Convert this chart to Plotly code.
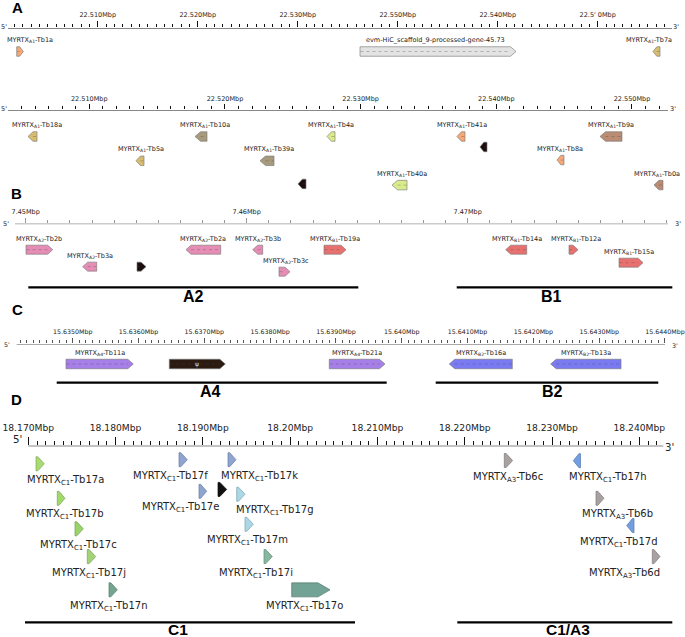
import numpy as np
import plotly.graph_objects as go

W, H = 685, 637

# ======================= DATA =======================
# ---- Panel A, upper track ----
A1_window = [22501030, 22567430]
A1_tick_vals = [22510000, 22520000, 22530000, 22540000, 22550000, 22560000]
A1_tick_text = ["22.510Mbp", "22.520Mbp", "22.530Mbp", "22.550Mbp", "22.540Mbp", "22.5' 0Mbp"]
A1_genes = ["MYRTX<sub>A1</sub>-Tb1a", "evm-HiC_scaffold_9-processed-gene-45.73", "MYRTX<sub>A1</sub>-Tb7a"]
A1_start = [22501900, 22536230, 22565530]
A1_end = [22502560, 22551830, 22566230]
A1_strand = [1, 1, -1]

# ---- Panel A, lower track ----
A2_window = [22504012, 22552654]
A2_tick_vals = [22510000, 22520000, 22530000, 22540000, 22550000]
A2_tick_text = ["22.510Mbp", "22.520Mbp", "22.530Mbp", "22.540Mbp", "22.550Mbp"]
A2_genes = ["MYRTX<sub>A1</sub>-Tb18a", "MYRTX<sub>A1</sub>-Tb10a", "MYRTX<sub>A1</sub>-Tb4a",
            "MYRTX<sub>A1</sub>-Tb41a", "MYRTX<sub>A1</sub>-Tb9a", "MYRTX<sub>A1</sub>-Tb5a",
            "MYRTX<sub>A1</sub>-Tb39a", "MYRTX<sub>A1</sub>-Tb8a", "",
            "MYRTX<sub>A1</sub>-Tb40a", "MYRTX<sub>A1</sub>-Tb0a", ""]
A2_start = [22505486, 22517794, 22527522, 22537103, 22547642, 22513445,
            22522584, 22544473, 22538798, 22532313, 22551622, 22525385]
A2_end = [22506149, 22518678, 22528112, 22537693, 22549264, 22514035,
          22523616, 22544989, 22539314, 22533418, 22552285, 22525974]
A2_strand = [-1] * 12

# ---- Panel B ----
B_window = [7449516, 7479064]
B_tick_vals = [7450000, 7460000, 7470000]
B_tick_text = ["7.45Mbp", "7.46Mbp", "7.47Mbp"]
B_genes = ["MYRTX<sub>A2</sub>-Tb2b", "MYRTX<sub>A2</sub>-Tb2a", "MYRTX<sub>A2</sub>-Tb3b",
           "MYRTX<sub>B1</sub>-Tb19a", "MYRTX<sub>B1</sub>-Tb14a", "MYRTX<sub>B1</sub>-Tb12a",
           "MYRTX<sub>A2</sub>-Tb3a", "", "MYRTX<sub>B1</sub>-Tb15a", "MYRTX<sub>A2</sub>-Tb3c"]
B_start = [7450014, 7457254, 7460272, 7463498, 7471720, 7474584, 7452579, 7455036, 7476847, 7461462]
B_end = [7451222, 7458824, 7460724, 7464494, 7472670, 7474992, 7453213, 7455444, 7477933, 7461960]
B_strand = [1, -1, -1, 1, -1, 1, -1, 1, 1, 1]
B_regions = ["A2", "B1"]
B_region_start = [7450118, 7469503]
B_region_end = [7465050, 7479259]

# ---- Panel C ----
C_window = [15634149, 15644000]
C_tick_vals = [15635000, 15636000, 15637000, 15638000, 15639000,
               15640000, 15641000, 15642000, 15643000, 15644000]
C_tick_text = ["15.6350Mbp", "15.6360Mbp", "15.6370Mbp", "15.6380Mbp", "15.6390Mbp",
               "15.640Mbp", "15.6410Mbp", "15.6420Mbp", "15.6430Mbp", "15.6440Mbp"]
C_genes = ["MYRTX<sub>A4</sub>-Tb11a", "", "MYRTX<sub>A4</sub>-Tb21a",
           "MYRTX<sub>B2</sub>-Tb16a", "MYRTX<sub>B2</sub>-Tb13a"]
C_start = [15634898, 15636468, 15638899, 15640722, 15642263]
C_end = [15635921, 15637319, 15639745, 15641680, 15643332]
C_strand = [1, 1, 1, -1, -1]
C_regions = ["A4", "B2"]
C_region_start = [15634757, 15640516]
C_region_end = [15639771, 15643898]

# ---- Panel D ----
D_window = [18170000, 18242746]
D_tick_vals = [18170000, 18180000, 18190000, 18200000, 18210000, 18220000, 18230000, 18240000]
D_tick_text = ["18.170Mbp", "18.180Mbp", "18.190Mbp", "18.20Mbp", "18.210Mbp",
               "18.220Mbp", "18.230Mbp", "18.240Mbp"]
D_genes = ["MYRTX<sub>C1</sub>-Tb17a", "MYRTX<sub>C1</sub>-Tb17b", "MYRTX<sub>C1</sub>-Tb17c",
           "MYRTX<sub>C1</sub>-Tb17j", "MYRTX<sub>C1</sub>-Tb17n", "MYRTX<sub>C1</sub>-Tb17f",
           "MYRTX<sub>C1</sub>-Tb17e", "", "MYRTX<sub>C1</sub>-Tb17k", "MYRTX<sub>C1</sub>-Tb17g",
           "MYRTX<sub>C1</sub>-Tb17m", "MYRTX<sub>C1</sub>-Tb17i", "MYRTX<sub>C1</sub>-Tb17o",
           "MYRTX<sub>A3</sub>-Tb6c", "MYRTX<sub>C1</sub>-Tb17h", "MYRTX<sub>A3</sub>-Tb6b",
           "MYRTX<sub>C1</sub>-Tb17d", "MYRTX<sub>A3</sub>-Tb6d"]
D_start = [18170882, 18173322, 18175350, 18176759, 18179245, 18187264, 18189555, 18191732,
           18192878, 18193874, 18194825, 18197002, 18200175, 18224531, 18232435, 18235036,
           18238553, 18241485]
D_end = [18171833, 18174204, 18176301, 18177721, 18180196, 18188215, 18190438, 18192729,
         18193794, 18194825, 18195776, 18197953, 18204563, 18225482, 18233260, 18235952,
         18239389, 18242368]
D_strand = [1, 1, 1, 1, 1, 1, 1, 1, 1, 1, 1, 1, 1, 1, -1, 1, -1, 1]
D_regions = ["C1", "C1/A3"]
D_region_start = [18169622, 18219146]
D_region_end = [18207427, 18243777]

# ======================= STYLE / LAYOUT =======================
ORANGE, TAN, OLIVE, LIME, BROWN = "#f6a876", "#d8bd70", "#a89a7c", "#d9ec8c", "#ba8c74"
DARK = "#1c0c0c"
PINK, RED, PURPLE, BLUE = "#e68db6", "#e8716f", "#a67fe8", "#7a7af2"

tracks = [
    dict(name="A1", window=A1_window, tv=A1_tick_vals, tt=A1_tick_text, genes=A1_genes,
         start=A1_start, end=A1_end, strand=A1_strand,
         colors=[ORANGE, "#e3e3e3", TAN], levels=[0, 0, 0], lab_dx=[10, -3, -7.5],
         ref_bp=22510000, ref_px=97.7, ppk=10.0, axis_y=28, bottom=95,
         base=51.5, step=24.3, gh=9.5, lab_dy=-11.5, fs=6.5, tfs=6.5, stand=1,
         acol="#111", aw=1, tlen=6, mlen=3.5, mstep=10000 / 12, head=5.5,
         five=(-4, -1), three=(4, -1), regions=None),
    dict(name="A2", window=A2_window, tv=A2_tick_vals, tt=A2_tick_text, genes=A2_genes,
         start=A2_start, end=A2_end, strand=A2_strand,
         colors=[TAN, OLIVE, LIME, ORANGE, BROWN, TAN, OLIVE, ORANGE, DARK, LIME, BROWN, DARK],
         levels=[0, 0, 0, 0, 0, 1, 1, 0.97, 0.43, 2, 2, 1.95],
         lab_dx=[4, 4, 0, 1, 0, 1, 2, 0, 0, 2, -1, 0],
         ref_bp=22530000, ref_px=360.62, ppk=13.5675, axis_y=110, bottom=195,
         base=136.5, step=24.3, gh=9.5, lab_dy=-11.5, fs=6.5, tfs=6.5, stand=0,
         acol="#111", aw=1, tlen=5, mlen=3, mstep=1000, head=5.5,
         five=(-4, -1), three=(5, -1), regions=None),
    dict(name="B", window=B_window, tv=B_tick_vals, tt=B_tick_text, genes=B_genes,
         start=B_start, end=B_end, strand=B_strand,
         colors=[PINK, PINK, PINK, RED, RED, RED, PINK, DARK, RED, PINK],
         levels=[0, 0, 0, 0, 0, 0, 0.77, 0.77, 0.59, 1.0],
         lab_dx=[0, 0, 0, 0, 1, 2, 0, 0, -2, 1],
         ref_bp=7450000, ref_px=25.7, ppk=22.1, axis_y=223.5, bottom=300,
         base=249.7, step=22, gh=9, lab_dy=-11, fs=6.5, tfs=6.5, stand=1,
         acol="#999", aw=1.5, tlen=4.5, mlen=2.5, mstep=1000, head=5,
         five=(-9, 0), three=(10, 0),
         regions=(B_regions, B_region_start, B_region_end), reg_y=287.3, reg_dx=[0, -13],
         reg_dy=8.8),
    dict(name="C", window=C_window, tv=C_tick_vals, tt=C_tick_text, genes=C_genes,
         start=C_start, end=C_end, strand=C_strand,
         colors=[PURPLE, "#2a1a10", PURPLE, BLUE, BLUE],
         levels=[0, 0, 0, 0, 0], lab_dx=[0, 0, 0, 0, 0],
         ref_bp=15635000, ref_px=72.7, ppk=65.81, axis_y=344, bottom=398,
         base=364, step=22, gh=9.5, lab_dy=-11.3, fs=6.5, tfs=6.3, stand=1,
         acol="#555", aw=1, tlen=5, mlen=2.7, mstep=100, head=5.5,
         five=(-10, 0), three=(10, 1),
         regions=(C_regions, C_region_start, C_region_end), reg_y=382.7, reg_dx=[-11, 6],
         reg_dy=8.8),
    dict(name="D", window=D_window, tv=D_tick_vals, tt=D_tick_text, genes=D_genes,
         start=D_start, end=D_end, strand=D_strand,
         colors=["#a8dc72", "#a2d96c", "#98d36c", "#a3d277", "#73a590", "#8ea5d2",
                 "#8ea5d2", "#111111", "#8ea5d2", "#aad8e6", "#aad8e6", "#86b8a0",
                 "#72a395", "#a9a1a1", "#729fe2", "#a9a1a1", "#729fe2", "#a9a1a1"],
         levels=[0.127, 1.195, 2.14, 3.0, 4.03, 0, 0.98, 0.92, 0, 1.07, 2.0, 3.0, 4.03,
                 0.025, 0.03, 1.195, 2.04, 3.0],
         lab_dx=[25.5, 3.7, -1, -3, -4.5, -13, -22, 0, 27, 34, -2, -12, -6.5,
                 0, 31, 17.5, -11.5, -32],
         ref_bp=18170000, ref_px=28.3, ppk=8.729, axis_y=445.7, bottom=637,
         base=459.7, step=32.3, gh=14, lab_dy=16.5, fs=10, tfs=9.2, stand=3,
         acol="#111", aw=1.3, tlen=7.5, mlen=4, mstep=1000, head=12,
         five=(-11, -6.5), three=(6, 2),
         regions=(D_regions, D_region_start, D_region_end), reg_y=622.3, reg_dx=[-12, 3],
         reg_dy=7.5),
]


def darker(hexcol, f=0.72):
    h = hexcol.lstrip("#")
    r, g, b = int(h[0:2], 16), int(h[2:4], 16), int(h[4:6], 16)
    return "rgb(%d,%d,%d)" % (r * f, g * f, b * f)


fig = go.Figure()
annotations = []
layout = {}
FONT = "DejaVu Sans"


def ann(**kw):
    kw.setdefault("showarrow", False)
    kw.setdefault("xanchor", "center")
    kw.setdefault("yanchor", "middle")
    annotations.append(kw)


for i, T in enumerate(tracks, start=1):
    xr = "x" if i == 1 else "x%d" % i
    yr = "y" if i == 1 else "y%d" % i
    xk = "xaxis" if i == 1 else "xaxis%d" % i
    yk = "yaxis" if i == 1 else "yaxis%d" % i
    bp_per_px = 1000.0 / T["ppk"]

    def px2bp(px, T=T, bpp=bp_per_px):
        return T["ref_bp"] + (px - T["ref_px"]) * bpp

    w0, w1 = T["window"]
    ms = T["mstep"]
    minor = np.arange(np.ceil(w0 / ms) * ms, w1 + 1, ms)
    minor = [float(v) for v in minor if min(abs(v - t) for t in T["tv"]) > ms * 0.3]

    layout[xk] = dict(domain=[0, 1], range=[px2bp(0), px2bp(W)], anchor=yr, side="top",
                      showline=False, showgrid=False, zeroline=False,
                      tickmode="array", tickvals=T["tv"], ticktext=T["tt"],
                      ticks="outside", ticklen=T["tlen"], tickwidth=1, tickcolor=T["acol"],
                      tickfont=dict(family=FONT, size=T["tfs"], color="#222"),
                      ticklabelstandoff=T["stand"],
                      minor=dict(tickmode="array", tickvals=minor, ticks="outside",
                                 ticklen=T["mlen"], tickwidth=1, tickcolor=T["acol"],
                                 showgrid=False),
                      fixedrange=True)
    layout[yk] = dict(domain=[1 - T["bottom"] / H, 1 - T["axis_y"] / H],
                      range=[T["bottom"], T["axis_y"]], visible=False, fixedrange=True)

    # axis baseline
    fig.add_trace(go.Scatter(x=[w0, w1], y=[T["axis_y"], T["axis_y"]], mode="lines",
                             line=dict(color=T["acol"], width=T["aw"]),
                             xaxis=xr, yaxis=yr, hoverinfo="skip", showlegend=False))
    # 5' and 3' (vertical position in paper units so they are never hidden)
    efs = T["tfs"] + (1 if i == 5 else 0)
    ann(x=w0 + T["five"][0] * bp_per_px, y=1 - (T["axis_y"] + T["five"][1]) / H,
        xref=xr, yref="paper", text="5'", font=dict(family=FONT, size=efs, color="#222"))
    ann(x=w1 + T["three"][0] * bp_per_px, y=1 - (T["axis_y"] + T["three"][1]) / H,
        xref=xr, yref="paper", text="3'", font=dict(family=FONT, size=efs, color="#222"))

    # genes
    dot_x, dot_y = [], []
    for k, name in enumerate(T["genes"]):
        s, e, st = T["start"][k], T["end"][k], T["strand"][k]
        yc = T["base"] + T["levels"][k] * T["step"]
        h = T["gh"]
        L = e - s
        if i == 5:
            hd = min(T["head"] * bp_per_px, 0.78 * L)
        else:
            hd = min(T["head"] * bp_per_px, 0.55 * L)
        if st > 0:
            xs = [s, e - hd, e, e - hd, s, s]
        else:
            xs = [e, s + hd, s, s + hd, e, e]
        ys = [yc - h / 2, yc - h / 2, yc, yc + h / 2, yc + h / 2, yc - h / 2]
        col = T["colors"][k]
        fig.add_trace(go.Scatter(x=xs, y=ys, mode="lines", fill="toself", fillcolor=col,
                                 line=dict(color=darker(col, 0.75) if i == 5 else "rgba(120,120,120,0.9)",
                                           width=0.7),
                                 xaxis=xr, yaxis=yr, hoverinfo="skip", showlegend=False))
        if i != 5 and L > 6 * bp_per_px:
            if st > 0:
                dot_x += [s + 0.5 * bp_per_px, e - hd, None]
            else:
                dot_x += [s + hd, e - 0.5 * bp_per_px, None]
            dot_y += [yc, yc, None]
        if name:
            ann(x=(s + e) / 2 + T["lab_dx"][k] * bp_per_px, y=1 - (yc + T["lab_dy"]) / H,
                xref=xr, yref="paper", text=name,
                font=dict(family=FONT, size=T["fs"], color="#222"))
        if i == 4 and not name:
            ann(x=(s + e) / 2, y=1 - yc / H, xref=xr, yref="paper", text="\u03c8",
                font=dict(family=FONT, size=6, color="#ddd"))
    if dot_x:
        fig.add_trace(go.Scatter(x=dot_x, y=dot_y, mode="lines",
                                 line=dict(color="rgba(70,70,70,0.55)", width=0.6, dash="dot"),
                                 xaxis=xr, yaxis=yr, hoverinfo="skip", showlegend=False))

    # region bars
    if T["regions"]:
        names, rs, re_ = T["regions"]
        for k, rn in enumerate(names):
            fig.add_trace(go.Scatter(x=[rs[k], re_[k]], y=[T["reg_y"], T["reg_y"]], mode="lines",
                                     line=dict(color="#000", width=2.2),
                                     xaxis=xr, yaxis=yr, hoverinfo="skip", showlegend=False))
            ann(x=(rs[k] + re_[k]) / 2 + T["reg_dx"][k] * bp_per_px,
                y=1 - (T["reg_y"] + T["reg_dy"]) / H, xref=xr, yref="paper",
                text="<b>%s</b>" % rn,
                font=dict(family="Liberation Sans", size=16 if i < 5 else 15.5, color="#000"))

# panel letters
for letter, (lx, ly) in zip(["A", "B", "C", "D"], [(17, 8), (16.5, 193), (17, 309), (16.5, 399.5)]):
    ann(x=lx / W, y=1 - ly / H, xref="paper", yref="paper", text="<b>%s</b>" % letter,
        font=dict(family="Liberation Sans", size=15, color="#000"))

fig.update_layout(width=W, height=H, margin=dict(l=0, r=0, t=0, b=0),
                  paper_bgcolor="white", plot_bgcolor="white", showlegend=False,
                  annotations=annotations, **layout)
fig.write_html("out.html", config={"displayModeBar": False},
               post_script="document.body.style.margin='0';document.body.style.padding='0';")
